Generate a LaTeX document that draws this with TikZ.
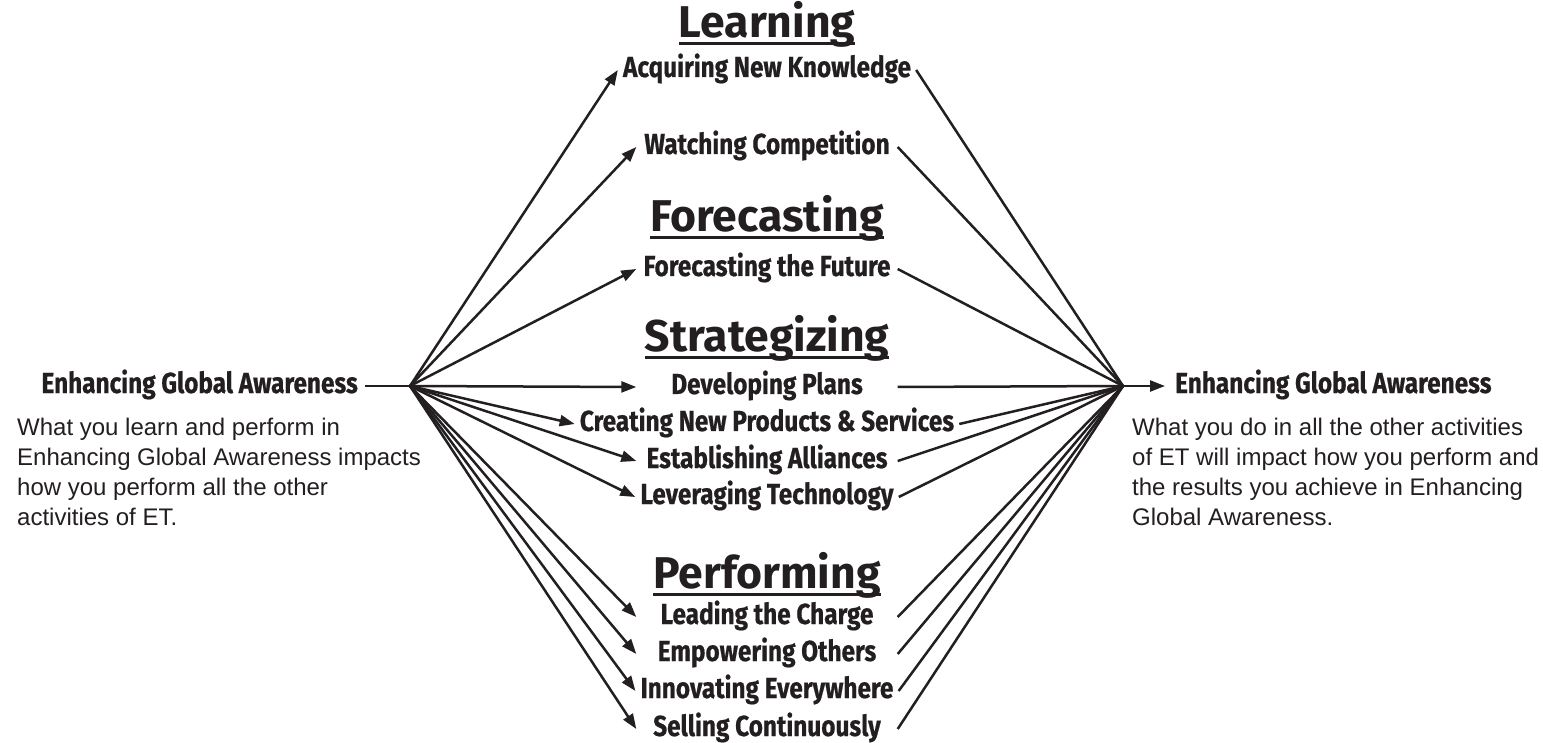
\documentclass[tikz,border=0pt]{standalone}
\usepackage{fontspec}
\setmainfont{Liberation Sans}
\newfontfamily\condfont[FakeStretch=0.84,FakeBold=0.6]{Fira Sans}
\newfontfamily\headfont{Fira Sans}
\usetikzlibrary{arrows.meta}
\definecolor{ink}{RGB}{35,31,32}
\begin{document}
\begin{tikzpicture}[x=1pt,y=-1pt,
  conn/.style={line width=2.5pt, draw=ink},
  arr/.style={conn, -{Triangle[length=15pt,width=11pt]}},
  item/.style={font=\condfont\bfseries\fontsize{29}{32}\selectfont, text=ink,
    minimum width=261pt, inner xsep=5pt, inner ysep=0pt,
    text height=20pt, text depth=6pt, anchor=center},
  side/.style={item, minimum width=0pt},
  head/.style={font=\headfont\bfseries\fontsize{44.5}{48}\selectfont, text=ink,
    inner sep=0pt, anchor=base},
  ul/.style={line width=3pt, draw=ink},
  desc/.style={font=\fontsize{24}{30}\selectfont, text=ink, align=left,
    inner sep=0pt, anchor=north west}
]
\useasboundingbox (0,0) rectangle (1543,743);
\fill[white] (0,0) rectangle (1543,743);

% headings
\node[head] (hL) at (767,38) {Learning};
\node[head] (hF) at (767,232) {Forecasting};
\node[head] (hS) at (767,352) {Strategizing};
\node[head] (hP) at (767,588) {Performing};
\foreach \h in {hL,hF,hS,hP}
  \draw[ul] ([yshift=-6pt]\h.base west) -- ([yshift=-6pt]\h.base east);

% items
\node[item] (i1) at (767,70) {Acquiring New Knowledge};
\node[item] (i2) at (767,147) {Watching Competition};
\node[item] (i3) at (767,269) {Forecasting the Future};
\node[item] (i4) at (767,387) {Developing Plans};
\node[item] (i5) at (767,424) {Creating New Products \& Services};
\node[item] (i6) at (767,461) {Establishing Alliances};
\node[item] (i7) at (767,497) {Leveraging Technology};
\node[item] (i8) at (767,617) {Leading the Charge};
\node[item] (i9) at (767,654) {Empowering Others};
\node[item] (i10) at (767,691) {Innovating Everywhere};
\node[item] (i11) at (767,729) {Selling Continuously};

% hubs
\coordinate (hl) at (410,386);
\coordinate (hr) at (1123,386);

% side labels
\node[side, anchor=east, inner xsep=7pt] (gl) at (365,386) {Enhancing Global Awareness};
\node[side, anchor=west, inner xsep=10pt] (gr) at (1165,386) {Enhancing Global Awareness};
\draw[conn] (gl.east) -- (hl);
\draw[arr] (hr) -- (gr.west);

\foreach \i in {1,...,11} {
  \draw[arr] (hl) -- (i\i.west);
  \draw[conn] (i\i.east) -- (hr);
}

% descriptions
\node[desc] (dl) at (17,417.5) {What you learn and perform in\\Enhancing Global Awareness impacts\\how you perform all the other\\activities of ET.};
\node[desc] (dr) at (1132,417.5) {What you do in all the other activities\\of ET will impact how you perform and\\the results you achieve in Enhancing\\Global Awareness.};
\end{tikzpicture}
\end{document}
